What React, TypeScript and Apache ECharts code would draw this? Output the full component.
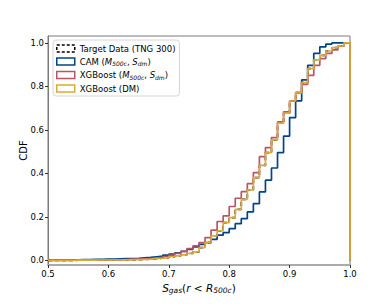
import React, { useEffect, useRef } from "react";
import * as echarts from "echarts";

// Bin edges of the cumulative histograms (S_gas)
const binEdges = [
  0.50, 0.51, 0.52, 0.53, 0.54, 0.55, 0.56, 0.57, 0.58, 0.59,
  0.60, 0.61, 0.62, 0.63, 0.64, 0.65, 0.66, 0.67, 0.68, 0.69,
  0.70, 0.71, 0.72, 0.73, 0.74, 0.75, 0.76, 0.77, 0.78, 0.79,
  0.80, 0.81, 0.82, 0.83, 0.84, 0.85, 0.86, 0.87, 0.88, 0.89,
  0.90, 0.91, 0.92, 0.93, 0.94, 0.95, 0.96, 0.97, 0.98, 0.99, 1.00,
];

// CDF value of each bin (level from edge i to edge i+1)
const targetCdf = [
  0, 0, 0, 0, 0.001, 0.001, 0.001, 0.001, 0.002, 0.002,
  0.002, 0.003, 0.003, 0.004, 0.004, 0.005, 0.006, 0.008, 0.010, 0.013,
  0.017, 0.021, 0.026, 0.032, 0.039, 0.059, 0.082, 0.113, 0.136, 0.174,
  0.197, 0.235, 0.281, 0.324, 0.381, 0.437, 0.496, 0.554, 0.631, 0.677,
  0.733, 0.772, 0.818, 0.882, 0.922, 0.943, 0.963, 0.979, 0.986, 1.0,
];
const camCdf = [
  0.001, 0.002, 0.002, 0.003, 0.003, 0.004, 0.004, 0.005, 0.005, 0.006,
  0.006, 0.007, 0.008, 0.009, 0.010, 0.012, 0.014, 0.017, 0.020, 0.024,
  0.029, 0.035, 0.042, 0.051, 0.062, 0.074, 0.082, 0.097, 0.116, 0.128,
  0.146, 0.169, 0.192, 0.223, 0.261, 0.315, 0.369, 0.425, 0.496, 0.572,
  0.657, 0.734, 0.830, 0.897, 0.952, 0.982, 0.995, 1.0, 1.0, 1.0,
];
const xgbMassCdf = [
  0, 0, 0, 0.001, 0.001, 0.001, 0.002, 0.002, 0.002, 0.003,
  0.003, 0.003, 0.004, 0.005, 0.006, 0.007, 0.009, 0.011, 0.014, 0.018,
  0.024, 0.032, 0.042, 0.054, 0.067, 0.082, 0.105, 0.139, 0.179, 0.205,
  0.248, 0.286, 0.316, 0.353, 0.404, 0.477, 0.519, 0.565, 0.637, 0.683,
  0.733, 0.772, 0.810, 0.851, 0.897, 0.928, 0.952, 0.968, 0.986, 1.0,
];
const xgbDmCdf = [
  0, 0, 0, 0, 0.001, 0.001, 0.001, 0.001, 0.002, 0.002,
  0.002, 0.003, 0.003, 0.004, 0.004, 0.005, 0.006, 0.008, 0.010, 0.013,
  0.017, 0.021, 0.026, 0.032, 0.039, 0.059, 0.082, 0.113, 0.136, 0.174,
  0.197, 0.235, 0.281, 0.324, 0.381, 0.437, 0.496, 0.554, 0.631, 0.677,
  0.733, 0.772, 0.818, 0.882, 0.922, 0.943, 0.963, 0.979, 0.986, 1.0,
];

const xTicks = [0.5, 0.6, 0.7, 0.8, 0.9, 1.0];
const yTicks = [0.0, 0.2, 0.4, 0.6, 0.8, 1.0];

const seriesNames = [
  "Target Data (TNG 300)",
  "CAM (M500c, Sdm)",
  "XGBoost (M500c, Sdm)",
  "XGBoost (DM)",
];
const legendLabels: Record<string, string> = {
  "Target Data (TNG 300)": "Target Data (TNG 300)",
  "CAM (M500c, Sdm)": "CAM ({i|M}{s|500c}{n|, }{i|S}{s|dm}{n|)}",
  "XGBoost (M500c, Sdm)": "XGBoost ({i|M}{s|500c}{n|, }{i|S}{s|dm}{n|)}",
  "XGBoost (DM)": "XGBoost (DM)",
};
const colors = ["#000000", "#004488", "#BB5566", "#DDAA33"];

const FONT = "DejaVu Sans";

function stepPoints(vals: number[]) {
  const pts: number[][] = [[binEdges[0], 0]];
  vals.forEach((v, i) => pts.push([binEdges[i], v]));
  pts.push([binEdges[binEdges.length - 1], vals[vals.length - 1]]);
  pts.push([binEdges[binEdges.length - 1], 0]);
  return pts;
}

export default function App() {
  const ref = useRef<HTMLDivElement>(null);
  useEffect(() => {
    document.body.style.margin = "0";
    if (!ref.current) return;
    const chart = echarts.init(ref.current, null, { renderer: "svg" });
    const allData = [targetCdf, camCdf, xgbMassCdf, xgbDmCdf];
    const subRich = {
      n: { fontSize: 8.5, fontFamily: FONT, color: "#000" },
      i: { fontSize: 8.5, fontFamily: FONT, fontStyle: "italic", color: "#000" },
      s: { fontSize: 6, fontFamily: FONT, fontStyle: "italic", color: "#000", padding: [4, 0, 0, 0] },
    };
    chart.setOption({
      animation: false,
      backgroundColor: "#fff",
      grid: {
        left: 48,
        right: 40,
        top: 36,
        bottom: 39,
        show: true,
        borderColor: "#7a7a7a",
        borderWidth: 1,
        backgroundColor: "transparent",
      },
      legend: {
        orient: "vertical",
        left: 53,
        top: 40,
        itemWidth: 18,
        itemHeight: 7,
        itemGap: 4,
        padding: [4, 4, 3, 3],
        backgroundColor: "rgba(255,255,255,0.85)",
        borderColor: "#d6d6d6",
        borderWidth: 1,
        borderRadius: 3,
        textStyle: { fontSize: 8.5, fontFamily: FONT, color: "#000", rich: subRich },
        formatter: (name: string) => legendLabels[name] || name,
        data: seriesNames.map((n, i) => ({
          name: n,
          icon: "rect",
          itemStyle: {
            color: "#fff",
            borderColor: colors[i],
            borderWidth: 1.5,
            borderType: i === 0 ? [3, 2] : "solid",
          },
        })),
      },
      xAxis: {
        type: "value",
        min: 0.5,
        max: 1.0,
        splitLine: { show: false },
        axisLine: { show: true, onZero: false, lineStyle: { color: "#aaaaaa", width: 2 } },
        axisTick: { show: true, length: 3, customValues: xTicks, lineStyle: { color: "#333" } },
        axisLabel: {
          customValues: xTicks,
          formatter: (v: number) => v.toFixed(1),
          fontSize: 8.5,
          fontFamily: FONT,
          color: "#000",
          margin: 4,
        },
        name: "{i|S}{s|gas}{n|(}{i|r}{n| < }{i|R}{s|500c}{n|)}",
        nameLocation: "middle",
        nameGap: 14,
        nameTextStyle: {
          rich: {
            n: { fontSize: 10.5, fontFamily: FONT, color: "#000" },
            i: { fontSize: 10.5, fontFamily: FONT, fontStyle: "italic", color: "#000" },
            s: { fontSize: 7.5, fontFamily: FONT, fontStyle: "italic", color: "#000", padding: [5, 0, 0, 0] },
          },
        },
      },
      yAxis: {
        type: "value",
        min: -0.021,
        max: 1.032,
        splitLine: { show: false },
        axisLine: { show: true, onZero: false, lineStyle: { color: "#7a7a7a", width: 1 } },
        axisTick: { show: true, length: 3, customValues: yTicks, lineStyle: { color: "#333" } },
        axisLabel: {
          customValues: yTicks,
          formatter: (v: number) => v.toFixed(1),
          fontSize: 8.5,
          fontFamily: FONT,
          color: "#000",
          margin: 4,
        },
        name: "CDF",
        nameLocation: "middle",
        nameMoveOverlap: false,
        nameGap: 20,
        nameTextStyle: { fontSize: 10, fontFamily: FONT, color: "#000" },
      },
      series: seriesNames.map((n, i) => ({
        name: n,
        type: "line",
        step: "end",
        showSymbol: false,
        symbol: "none",
        clip: true,
        z: 2 + i,
        data: stepPoints(allData[i]),
        lineStyle: {
          color: colors[i],
          width: 1.7,
          type: i === 0 ? [4, 3] : "solid",
        },
        itemStyle: { color: colors[i] },
      })),
    });
    return () => chart.dispose();
  }, []);
  return <div ref={ref} style={{ width: 390, height: 304 }} />;
}
